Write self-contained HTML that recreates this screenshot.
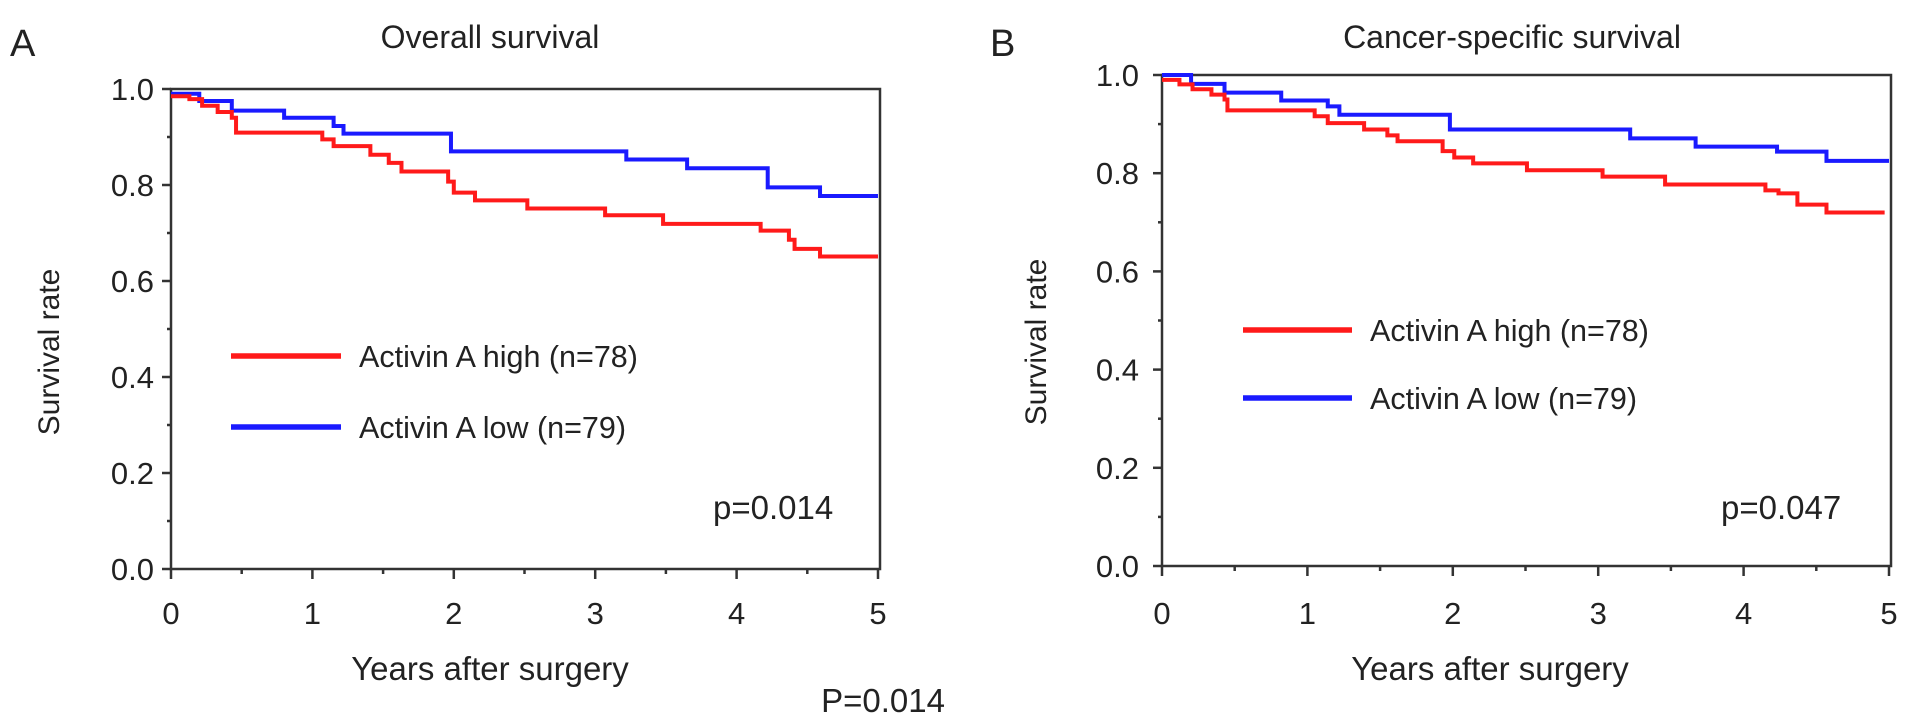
<!DOCTYPE html>
<html><head><meta charset="utf-8"><style>
html,body{margin:0;padding:0;background:#fff;}
svg{display:block;font-family:"Liberation Sans",Arial,sans-serif;}
</style></head><body>
<svg id="fig" width="1913" height="722" viewBox="0 0 1913 722"></svg>
<script>
// Panel A: overall survival (step times in years, survival values)
const aHighT = [0,0.13,0.22,0.33,0.43,0.46,1.07,1.15,1.41,1.54,1.63,1.96,2.0,2.15,2.52,3.07,3.48,4.17,4.37,4.41,4.59,5];
const aHighS = [0.985,0.979,0.965,0.952,0.94,0.909,0.895,0.881,0.863,0.846,0.828,0.807,0.784,0.768,0.751,0.737,0.719,0.705,0.686,0.667,0.651,0.651];
const aLowT = [0,0.2,0.43,0.8,1.15,1.22,1.98,3.22,3.65,4.22,4.59,5];
const aLowS = [0.99,0.975,0.955,0.94,0.923,0.907,0.87,0.853,0.835,0.795,0.777,0.777];
// Panel B: cancer-specific survival
const bHighT = [0,0.12,0.21,0.34,0.43,0.45,1.05,1.14,1.39,1.55,1.62,1.93,2.01,2.14,2.51,3.03,3.46,4.15,4.24,4.37,4.57,4.97];
const bHighS = [0.99,0.981,0.971,0.96,0.95,0.928,0.916,0.902,0.889,0.877,0.865,0.845,0.832,0.82,0.806,0.793,0.777,0.765,0.759,0.736,0.72,0.72];
const bLowT = [0,0.2,0.43,0.82,1.14,1.22,1.98,3.22,3.67,4.23,4.57,5];
const bLowS = [1.0,0.982,0.964,0.948,0.936,0.919,0.889,0.871,0.854,0.844,0.825,0.825];
const xTicks = [0,1,2,3,4,5];
const yTicks = [0,0.2,0.4,0.6,0.8,1.0];
const yTickLabels = ["0.0","0.2","0.4","0.6","0.8","1.0"];

const NS = "http://www.w3.org/2000/svg";
const svg = document.getElementById('fig');
function mk(tag, attrs, parent, text){
  const e = document.createElementNS(NS, tag);
  for (const k in attrs) e.setAttribute(k, attrs[k]);
  if (text !== undefined) e.textContent = text;
  (parent||svg).appendChild(e);
  return e;
}

function panel(p){
  const g = mk('g', {});
  
  
  const X = t => p.x0 + (p.x1 - p.x0) * t / 5;
  const Y = v => p.y0 + (p.y1 - p.y0) * v;
  const lt = mk('text', {x:p.letterX, y:56, 'font-size':38, fill:'#222'}, g, p.letter);
  
  
  const tt = mk('text', {x:p.titleX, y:48, 'font-size':32, 'text-anchor':'middle', fill:'#222'}, g, p.title);
  
  
  const box = mk('rect', {x:p.x0, y:Y(1), width:p.x1 - p.x0 + 2, height:p.y0 - Y(1), fill:'none', stroke:'#333', 'stroke-width':2.5}, g);
  
  
  for (let i = 0; i < yTicks.length; i++){
    const y = Y(yTicks[i]);
    const tk = mk('line', {x1:p.x0 - 9, x2:p.x0, y1:y, y2:y, stroke:'#333', 'stroke-width':2.5}, g);
    
    
    const lb = mk('text', {x:p.yLabX, y:y + 11, 'font-size':31, 'text-anchor':'end', fill:'#222'}, g, yTickLabels[i]);
    
    
    if (i < yTicks.length - 1){
      const ym = Y(yTicks[i] + 0.1);
      const mt = mk('line', {x1:p.x0 - 4, x2:p.x0, y1:ym, y2:ym, stroke:'#333', 'stroke-width':2.5}, g);
      
      
    }
  }
  for (let i = 0; i < xTicks.length; i++){
    const x = X(xTicks[i]);
    const tk = mk('line', {x1:x, x2:x, y1:p.y0, y2:p.y0 + 10, stroke:'#333', 'stroke-width':2.5}, g);
    
    
    const lb = mk('text', {x:x, y:624, 'font-size':31, 'text-anchor':'middle', fill:'#222'}, g, String(xTicks[i]));
    
    
    if (i < xTicks.length - 1){
      const xm = X(xTicks[i] + 0.5);
      const mt = mk('line', {x1:xm, x2:xm, y1:p.y0, y2:p.y0 + 5, stroke:'#333', 'stroke-width':2.5}, g);
      
      
    }
  }
  const xt = mk('text', {x:p.xTitleX, y:680, 'font-size':33, 'text-anchor':'middle', fill:'#222'}, g, 'Years after surgery');
  
  
  const yt = mk('text', {x:0, y:0, 'font-size':30, 'text-anchor':'middle', fill:'#222', transform:'translate(' + (p.yTitleX + 10) + ',' + p.yTitleY + ') rotate(-90)'}, g, 'Survival rate');
  
  
  function step(T, S, color, name){
    let d = 'M' + X(T[0]) + ',' + Y(S[0]);
    for (let i = 1; i < T.length; i++){
      d += ' H' + X(T[i]) + ' V' + Y(S[i]);
    }
    const path = mk('path', {d:d, fill:'none', stroke:color, 'stroke-width':4}, g);
    
    
  }
  step(p.lowT, p.lowS, '#1a1aff', p.key + '-low-curve');
  step(p.highT, p.highS, '#ff1a1a', p.key + '-high-curve');
  const legendItems = [['#ff1a1a','Activin A high (n=78)',p.legY1,'high'],['#1a1aff','Activin A low (n=79)',p.legY2,'low']];
  for (const it of legendItems){
    const ll = mk('line', {x1:p.legX1, x2:p.legX2, y1:it[2], y2:it[2], stroke:it[0], 'stroke-width':5.5}, g);
    
    
    const lt2 = mk('text', {x:p.legX2 + 18, y:it[2] + 11, 'font-size':30.5, fill:'#222'}, g, it[1]);
    
    
  }
  const pv = mk('text', {x:p.pX, y:519, 'font-size':33, fill:'#222'}, g, p.pText);
  
  
}

panel({key:'a', letter:'A', letterX:10, title:'Overall survival', titleX:490,
  x0:171, x1:878, y0:569, y1:89, yLabX:154, xTitleX:490, yTitleX:49, yTitleY:352,
  highT:aHighT, highS:aHighS, lowT:aLowT, lowS:aLowS,
  legX1:231, legX2:341, legY1:356, legY2:427, pX:713, pText:'p=0.014'});
panel({key:'b', letter:'B', letterX:990, title:'Cancer-specific survival', titleX:1512,
  x0:1162, x1:1889, y0:566, y1:75, yLabX:1139, xTitleX:1490, yTitleX:1036, yTitleY:342,
  highT:bHighT, highS:bHighS, lowT:bLowT, lowS:bLowS,
  legX1:1243, legX2:1352, legY1:330, legY2:398, pX:1721, pText:'p=0.047'});

const bp = mk('text', {x:945, y:712, 'font-size':33, 'text-anchor':'end', fill:'#222'}, svg, 'P=0.014');


</script>
</body></html>
